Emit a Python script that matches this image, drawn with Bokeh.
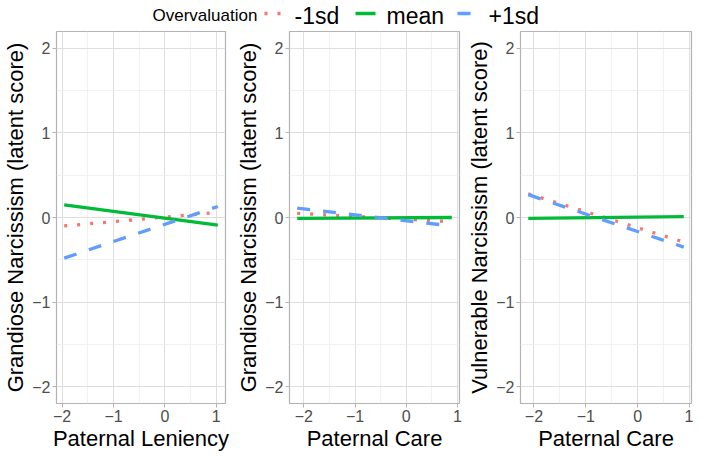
from bokeh.plotting import figure
from bokeh.layouts import column, row
from bokeh.models import Range1d, FixedTicker
from bokeh.core.properties import value
from bokeh.embed import file_html
from bokeh.resources import INLINE

# ---- data ----
series = ["-1sd", "mean", "+1sd"]
legend_title = "Overvaluation"
colors = ["#F8766D", "#00BA38", "#619CFF"]
dashes = ["3 10", "solid", "13 13"]

p1_x = [-1.96, 1.03]
p1_low = [-0.10, 0.06]
p1_mean = [0.15, -0.09]
p1_high = [-0.48, 0.13]

p2_x = [-2.13, 0.89]
p2_low = [0.05, -0.05]
p2_mean = [-0.01, 0.00]
p2_high = [0.11, -0.10]

p3_x = [-2.11, 0.89]
p3_low = [0.28, -0.29]
p3_mean = [-0.01, 0.01]
p3_high = [0.27, -0.35]

x_titles = ["Paternal Leniency", "Paternal Care", "Paternal Care"]
y_titles = ["Grandiose Narcissism (latent score)",
            "Grandiose Narcissism (latent score)",
            "Vulnerable Narcissism (latent score)"]
x_ticks = [-2, -1, 0, 1]
x_minor = [-1.5, -0.5, 0.5]
y_ticks = [-2, -1, 0, 1, 2]
y_minor = [-1.5, -0.5, 0.5, 1.5]

FONT = value("Liberation Sans")
LEG_H = 30
PANEL_H = 453 - LEG_H


def panel(xs, lines, xt, yt, xr, w, rb):
    p = figure(width=w, height=PANEL_H, x_range=Range1d(*xr), y_range=Range1d(-2.2, 2.2),
               output_backend="svg", toolbar_location=None,
               min_border_left=0, min_border_right=rb, min_border_top=1, min_border_bottom=0)
    p.outline_line_color = "#B3B3B3"
    p.outline_line_width = 1.2
    p.background_fill_color = "white"
    p.border_fill_color = "white"
    p.xaxis.ticker = FixedTicker(ticks=x_ticks, minor_ticks=x_minor)
    p.yaxis.ticker = FixedTicker(ticks=y_ticks, minor_ticks=y_minor)
    for g in p.grid:
        g.grid_line_color = "#DEDEDE"
        g.grid_line_width = 1
        g.minor_grid_line_color = "#EDEDED"
        g.minor_grid_line_width = 0.8
    for ax in p.axis:
        ax.axis_line_color = None
        ax.major_tick_line_color = "#B3B3B3"
        ax.major_tick_out = 4
        ax.major_tick_in = 0
        ax.minor_tick_line_color = None
        ax.major_label_text_font = "Liberation Sans"
        ax.major_label_text_font_size = "16px"
        ax.major_label_text_color = "#4D4D4D"
        ax.major_label_text_line_height = 1.0
        ax.major_label_standoff = 2
        ax.axis_label_text_font = "Liberation Sans"
        ax.axis_label_text_font_size = "22px"
        ax.axis_label_text_font_style = "normal"
        ax.axis_label_text_color = "black"
        ax.axis_label_text_line_height = 1.0
        ax.axis_label_standoff = 1
    p.xaxis.axis_label = xt
    p.yaxis.axis_label = yt
    for ys, c, d in zip(lines, colors, dashes):
        p.line(xs, ys, line_color=c, line_width=3.3, line_dash=d, line_cap="butt")
    return p


p1 = panel(p1_x, [p1_low, p1_mean, p1_high], x_titles[0], y_titles[0], (-2.11, 1.18), 233, 8)
p2 = panel(p2_x, [p2_low, p2_mean, p2_high], x_titles[1], y_titles[1], (-2.28, 1.04), 231, 5)
p3 = panel(p3_x, [p3_low, p3_mean, p3_high], x_titles[2], y_titles[2], (-2.26, 1.04), 229, 2)

# ---- legend strip ----
W = 693
lg = figure(width=W, height=LEG_H, x_range=Range1d(0, W), y_range=Range1d(0, LEG_H),
            output_backend="svg", toolbar_location=None, min_border=0)
lg.axis.visible = False
lg.grid.visible = False
lg.outline_line_color = None
ty = LEG_H - 15
ky = LEG_H - 13
lg.text(x=[152], y=[ty], text=[legend_title], text_font=FONT, text_font_size="17px",
        text_baseline="middle", text_align="left", text_color="black")
key_x0 = [264, 355, 457]
key_x1 = [284, 375, 477]
lab_x = [294, 386, 488]
for i, (s, c, d) in enumerate(zip(series, colors, dashes)):
    lg.line([key_x0[i], key_x1[i]], [ky, ky], line_color=c, line_width=3.3, line_dash=d, line_cap="butt")
lg.text(x=lab_x, y=[ty] * 3, text=series, text_font=FONT, text_font_size="23px",
        text_baseline="middle", text_align="left", text_color="black")

layout = column(lg, row(p1, p2, p3))
open("out.html", "w").write(file_html(layout, INLINE))
